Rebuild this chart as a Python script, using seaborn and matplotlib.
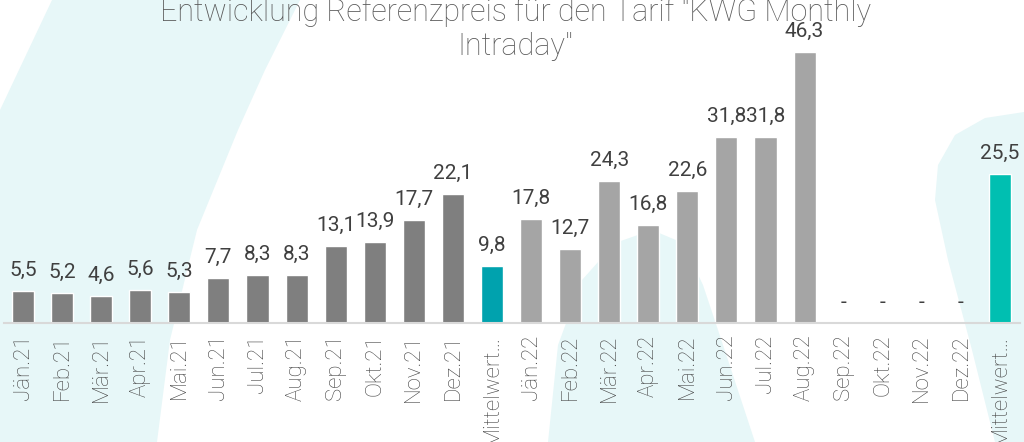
import matplotlib
matplotlib.use('Agg')
import matplotlib.pyplot as plt
from matplotlib.patches import Polygon
import seaborn as sns
import pandas as pd

categories = ['Jän.21', 'Feb.21', 'Mär.21', 'Apr.21', 'Mai.21', 'Jun.21', 'Jul.21', 'Aug.21',
              'Sep.21', 'Okt.21', 'Nov.21', 'Dez.21', 'Mittelwert 2021',
              'Jän.22', 'Feb.22', 'Mär.22', 'Apr.22', 'Mai.22', 'Jun.22', 'Jul.22', 'Aug.22',
              'Sep.22', 'Okt.22', 'Nov.22', 'Dez.22', 'Mittelwert 2022']
values = [5.5, 5.2, 4.6, 5.6, 5.3, 7.7, 8.3, 8.3, 13.1, 13.9, 17.7, 22.1, 9.8,
          17.8, 12.7, 24.3, 16.8, 22.6, 31.8, 31.8, 46.3, 0, 0, 0, 0, 25.5]
groups = ['2021'] * 12 + ['Mittel 2021'] + ['2022'] * 12 + ['Mittel 2022']
tick_labels = [c if not c.startswith('Mittelwert') else 'Mittelwert…' for c in categories]
title = 'Entwicklung Referenzpreis für den Tarif "KWG Monthly\nIntraday"'

group_colors = {'2021': '#7f7f7f', 'Mittel 2021': '#00a2ae',
                '2022': '#a5a5a5', 'Mittel 2022': '#00bfb1'}

df = pd.DataFrame({'Monat': categories, 'Preis': values, 'Gruppe': groups})
palette = {c: group_colors[g] for c, g in zip(categories, groups)}

sns.set_style('white')
plt.rcParams['font.family'] = ['Roboto', 'DejaVu Sans']

W, H = 1024, 442
fig = plt.figure(figsize=(W / 100, H / 100), dpi=100)

# decorative pale background shapes (pixel coords, top-left origin)
pale = '#e7f7f8'
shapes = [
    [(52, 0), (300, 0), (265, 70), (238, 130), (197, 230), (170, 340), (157, 442), (0, 442), (0, 110)],
    [(548, 442), (558, 345), (582, 280), (615, 243), (652, 230), (683, 243), (703, 285), (728, 360), (755, 442)],
    [(1024, 112), (985, 118), (955, 135), (938, 165), (935, 200), (948, 260), (972, 350), (995, 442), (1024, 442)],
]
for pts in shapes:
    fig.patches.append(Polygon([(x / W, 1 - y / H) for x, y in pts], closed=True,
                               transform=fig.transFigure, facecolor=pale,
                               edgecolor='none', zorder=-10))

ax = fig.add_axes([3.5 / W, 118.7 / H, 1016 / W, 293.2 / H])
ax.patch.set_alpha(0)
ax.set_zorder(1)

sns.barplot(data=df, x='Monat', y='Preis', hue='Monat', palette=palette,
            width=0.563, legend=False, saturation=1, ax=ax)

for cont in ax.containers:
    labs = ['-' if v == 0 else f'{v:.1f}'.replace('.', ',') for v in cont.datavalues]
    ax.bar_label(cont, labels=labs, padding=8, fontsize=15, color='#404040')

ax.set_ylim(0, 50)
ax.set_xlim(-0.5, len(categories) - 0.5)
ax.set_xticks(range(len(categories)))
ax.set_xticklabels(tick_labels, rotation=90, fontsize=16, color='#454545',
                   fontweight='light')
ax.tick_params(axis='x', length=0, pad=8)
ax.set_yticks([])
ax.set_xlabel('')
ax.set_ylabel('')
for s in ['top', 'left', 'right']:
    ax.spines[s].set_visible(False)
ax.spines['bottom'].set_color('#d9d9d9')
ax.spines['bottom'].set_linewidth(1.5)

fig.text(0.503, 1 - 29 / H, title, ha='center', va='center', fontsize=22,
         fontweight='light', color='#595959', linespacing=1.2)

fig.savefig('out.png', dpi=100)
